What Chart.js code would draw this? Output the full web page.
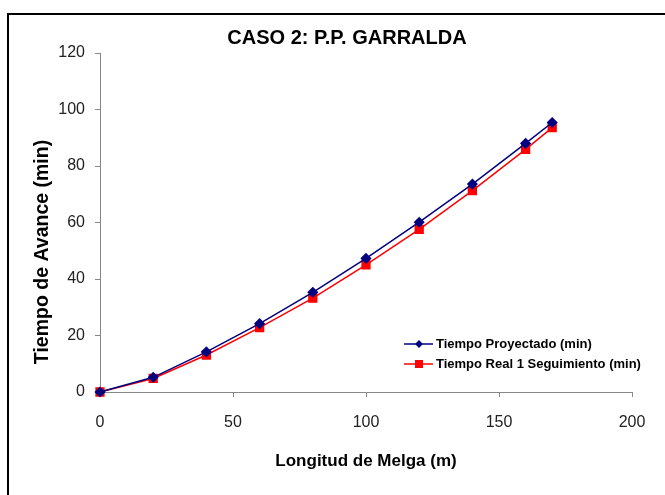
<!DOCTYPE html>
<html>
<head>
<meta charset="utf-8">
<script src="https://cdn.jsdelivr.net/npm/chart.js@4.4.0/dist/chart.umd.min.js"></script>
<style>
  html, body { margin: 0; padding: 0; background: #fff; }
  #wrap { width: 665px; height: 495px; position: relative; }
</style>
</head>
<body>
<div id="wrap"><canvas id="myChart" width="665" height="495"></canvas></div>
<script>
// datos
const longitud = [0, 20, 40, 60, 80, 100, 120, 140, 160, 170];
const tiempoProyectado = [0, 5.2, 14.2, 24.2, 35.3, 47.3, 60.1, 73.6, 88.0, 95.4];
const tiempoReal = [0, 4.8, 13.1, 22.8, 33.2, 45.0, 57.6, 71.3, 85.9, 93.6];
const xTicks = [0, 50, 100, 150, 200];
const yTicks = [0, 20, 40, 60, 80, 100, 120];

const font = "'Liberation Sans', Arial, sans-serif";

function toPoints(xs, ys) {
  return xs.map((x, i) => ({ x: x, y: ys[i] }));
}

// marco, titulos y leyenda
const extras = {
  id: 'extras',
  afterDraw(chart) {
    const ctx = chart.ctx;
    ctx.save();
    ctx.strokeStyle = '#000';
    ctx.lineWidth = 2;
    ctx.strokeRect(8, 14, 720, 520);

    ctx.fillStyle = '#000';
    ctx.font = 'bold 20px ' + font;
    ctx.textAlign = 'center';
    ctx.textBaseline = 'middle';
    ctx.fillText('CASO 2: P.P. GARRALDA', 347, 38);

    // titulo del eje y (un poco mas abajo que el centro del eje)
    ctx.save();
    ctx.translate(43, 252);
    ctx.rotate(-Math.PI / 2);
    ctx.font = 'bold 19.5px ' + font;
    ctx.fillText('Tiempo de Avance (min)', 0, 0);
    ctx.restore();

    // leyenda
    const items = chart.data.datasets;
    items.forEach((ds, i) => {
      const y = 344 + i * 20;
      ctx.strokeStyle = ds.borderColor;
      ctx.lineWidth = 1.5;
      ctx.beginPath();
      ctx.moveTo(404, y);
      ctx.lineTo(433, y);
      ctx.stroke();
      ctx.fillStyle = ds.pointBackgroundColor;
      if (ds.pointStyle === 'rectRot') {
        ctx.beginPath();
        ctx.moveTo(419, y - 4);
        ctx.lineTo(423, y);
        ctx.lineTo(419, y + 4);
        ctx.lineTo(415, y);
        ctx.closePath();
        ctx.fill();
      } else {
        ctx.fillRect(415, y - 4, 8, 8);
      }
      ctx.fillStyle = '#000';
      ctx.font = 'bold 13px ' + font;
      ctx.textAlign = 'left';
      ctx.fillText(ds.label, 436, y);
    });
    ctx.restore();
  }
};

const ctx = document.getElementById('myChart').getContext('2d');

new Chart(ctx, {
  type: 'scatter',
  data: {
    datasets: [{
      label: 'Tiempo Proyectado (min)',
      data: toPoints(longitud, tiempoProyectado),
      showLine: true,
      clip: false,
      borderColor: '#000080',
      backgroundColor: '#000080',
      pointBackgroundColor: '#000080',
      pointBorderColor: '#000080',
      pointStyle: 'rectRot',
      pointRadius: 4.5,
      borderWidth: 1.5
    }, {
      label: 'Tiempo Real 1 Seguimiento (min)',
      data: toPoints(longitud, tiempoReal),
      showLine: true,
      clip: false,
      borderColor: '#ff0000',
      backgroundColor: '#ff0000',
      pointBackgroundColor: '#ff0000',
      pointBorderColor: '#ff0000',
      pointStyle: 'rect',
      pointRadius: 5.5,
      borderWidth: 1.5
    }]
  },
  options: {
    responsive: false,
    animation: false,
    layout: { padding: { top: 53, right: 33, left: 0, bottom: 0 } },
    plugins: {
      legend: { display: false },
      title: { display: false },
      tooltip: { enabled: false }
    },
    scales: {
      x: {
        type: 'linear',
        min: 0,
        max: 200,
        afterFit(scale) { scale.height = 103; },
        afterBuildTicks(scale) { scale.ticks = xTicks.map(v => ({ value: v })); },
        grid: { drawOnChartArea: false, drawTicks: true, tickLength: 5, color: '#888' },
        border: { color: '#888', width: 1 },
        ticks: { color: '#222', font: { family: font, size: 16 }, padding: 16 },
        title: {
          display: true,
          text: 'Longitud de Melga (m)',
          color: '#000',
          font: { family: font, size: 17, weight: 'bold' },
          padding: { top: 0, bottom: 23 }
        }
      },
      y: {
        type: 'linear',
        min: 0,
        max: 120,
        afterFit(scale) { scale.width = 100; },
        afterBuildTicks(scale) { scale.ticks = yTicks.map(v => ({ value: v })); },
        grid: { drawOnChartArea: false, drawTicks: true, tickLength: 5, color: '#888' },
        border: { color: '#888', width: 1 },
        ticks: { color: '#222', font: { family: font, size: 16 }, padding: 10 }
      }
    }
  },
  plugins: [extras]
});
</script>
</body>
</html>
